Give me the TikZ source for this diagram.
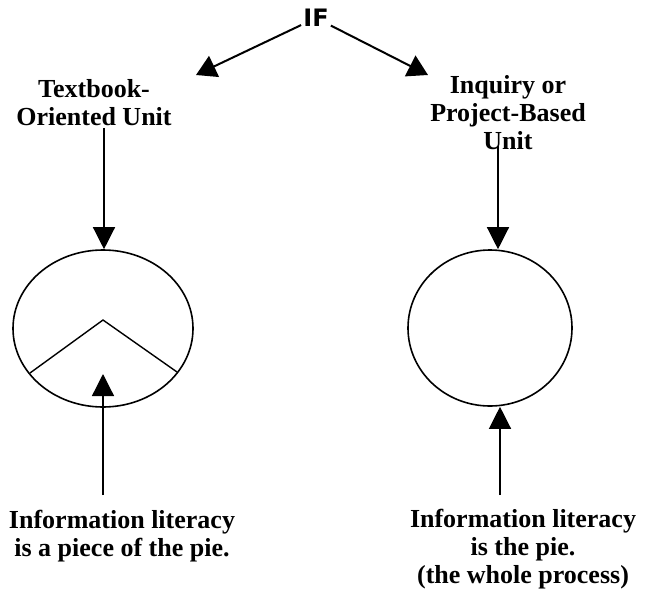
\documentclass[tikz,border=0pt]{standalone}
\usepackage{fontspec}
\setmainfont{Liberation Serif}
\newfontfamily\iffont{DejaVu Sans}
\usetikzlibrary{arrows.meta,shapes.geometric}
\begin{document}
\begin{tikzpicture}[x=1pt,y=-1pt,
  lbl/.style={align=center,inner sep=0pt,font=\fontsize{26}{28}\selectfont\bfseries},
  pie/.style={draw,ellipse,line width=1.6pt,inner sep=0pt},
  varrow/.style={line width=1.3pt,-{Triangle[width=22pt,length=22pt]}},
  darrow/.style={line width=2pt,-{Triangle[width=23pt,length=20pt]}}]
\useasboundingbox (0,0) rectangle (651,595);
\fill[white] (0,0) rectangle (651,595);
% top
\node[inner sep=2pt,font=\iffont\bfseries\fontsize{24}{24}\selectfont] (IF) at (316,18) {IF};
\coordinate (tl) at (196,75);
\coordinate (tr) at (428,75);
\draw[darrow] (IF) -- (tl);
\draw[darrow] (IF) -- (tr);
% labels
\node[lbl] (tb) at (94,103) {Textbook-\\Oriented Unit};
\node[lbl] (ip) at (508,113) {Inquiry or\\Project-Based\\Unit};
% pies
\node[pie,minimum width=180pt,minimum height=157pt] (c1) at (103,328.5) {};
\node[pie,minimum width=164pt,minimum height=156pt] (c2) at (490,328) {};
\coordinate (vl) at (30,373);
\coordinate (va) at (103,320);
\coordinate (vr) at (177,372);
\draw[line width=1.4pt] (vl) -- (va) -- (vr);
% down arrows
\coordinate (a1) at (104,128);
\coordinate (a2) at (498,146);
\draw[varrow] (a1) -- (a1 |- c1.north);
\draw[varrow] (a2) -- (a2 |- c2.north);
% bottom labels
\node[lbl] (bl) at (122,536) {Information literacy\\is a piece of the pie.};
\node[lbl] (br) at (523,549) {Information literacy\\is the pie.\\(the whole process)};
\coordinate (b1) at (103,495);
\coordinate (t1) at (103,374);
\coordinate (b2) at (500,495);
\draw[varrow] (b1) -- (t1);
\draw[varrow] (b2) -- (b2 |- c2.south);
\end{tikzpicture}
\end{document}
